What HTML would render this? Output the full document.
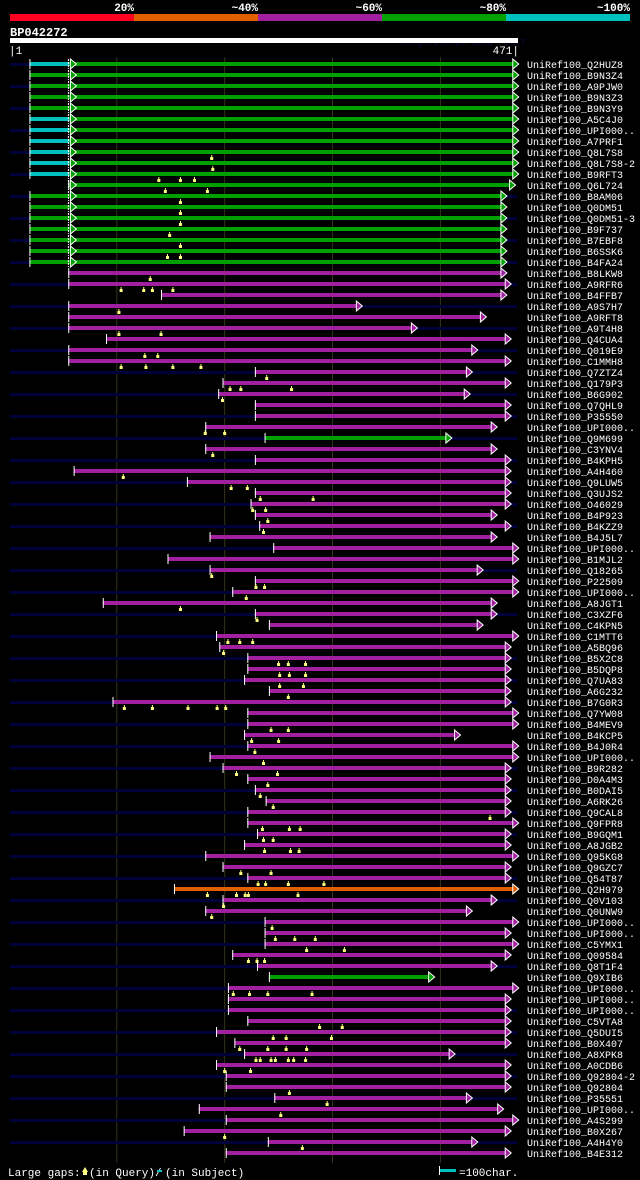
<!DOCTYPE html>
<html><head><meta charset="utf-8"><style>
body{margin:0;background:#000;width:640px;height:1180px;overflow:hidden;font-family:"Liberation Mono",monospace;}
svg{display:block}
</style></head><body>
<svg id="chart" width="640" height="1180" xmlns="http://www.w3.org/2000/svg">
<g>
<rect x="10" y="14" width="124" height="7" fill="#ff0020"/>
<rect x="134" y="14" width="124" height="7" fill="#e06000"/>
<rect x="258" y="14" width="124" height="7" fill="#a020a0"/>
<rect x="382" y="14" width="124" height="7" fill="#00a000"/>
<rect x="506" y="14" width="124" height="7" fill="#00c0c0"/>
<g font-size="11" font-weight="bold" fill="#fff" text-anchor="end">
<text x="134" y="11">20%</text><text x="258" y="11">~40%</text><text x="382" y="11">~60%</text><text x="506" y="11">~80%</text><text x="630" y="11">~100%</text>
</g></g>
<text x="10" y="36" font-size="12" font-weight="bold" fill="#fff">BP042272</text>
<text x="401" y="45" font-size="9" fill="#0a0a40">AlignView.pm Beta rel.7</text>
<rect x="10" y="38" width="508" height="5" fill="#fff"/>
<text x="9" y="54" font-size="11" fill="#fff">|1</text>
<text x="519" y="54" font-size="11" fill="#fff" text-anchor="end">471|</text>
<g id="grid"></g>
<g id="rows"></g>
<g font-size="11" fill="#fff">
<text x="8" y="1176">Large gaps:</text>
<path d="M82 1172 L85 1167 L88 1172 Z" fill="#ffff80"/><rect x="83" y="1172" width="4" height="3" fill="#ffff80"/>
<text x="89" y="1176">(in Query)/</text>
<rect x="157" y="1170" width="5" height="2" fill="#00c0c0"/>
<text x="165" y="1176">(in Subject)</text>
<rect x="439" y="1169" width="17" height="3" fill="#00c0c0"/><rect x="439" y="1166" width="1" height="9" fill="#fff"/>
<text x="459" y="1176">=100char.</text>
</g>
</svg>
<script>
const NS="http://www.w3.org/2000/svg";
const queryLen=471;
const gridTicks=[100,200,300,400];
const labels=["Q2HUZ8","B9N3Z4","A9PJW0","B9N3Z3","B9N3Y9","A5C4J0","UPI000..","A7PRF1","Q8L7S8","Q8L7S8-2","B9RFT3","Q6L724","B8AM06","Q0DM51","Q0DM51-3","B9F737","B7EBF8","B6SSK6","B4FA24","B8LKW8","A9RFR6","B4FFB7","A9S7H7","A9RFT8","A9T4H8","Q4CUA4","Q019E9","C1MMH8","Q7ZTZ4","Q179P3","B6G902","Q7QHL9","P35550","UPI000..","Q9M699","C3YNV4","B4KPH5","A4H460","Q9LUW5","Q3UJS2","O46029","B4P923","B4KZZ9","B4J5L7","UPI000..","B1MJL2","Q18265","P22509","UPI000..","A8JGT1","C3XZF6","C4KPN5","C1MTT6","A5BQ96","B5X2C8","B5DQP8","Q7UA83","A6G232","B7G0R3","Q7YW08","B4MEV9","B4KCP5","B4J0R4","UPI000..","B9R282","D0A4M3","B0DAI5","A6RK26","Q9CAL8","Q9FPR8","B9GQM1","A8JGB2","Q95KG8","Q9GZC7","Q54T87","Q2H979","Q0V103","Q0UNW9","UPI000..","UPI000..","C5YMX1","Q09584","Q8T1F4","Q9XIB6","UPI000..","UPI000..","UPI000..","C5VTA8","Q5DUI5","B0X407","A8XPK8","A0CDB6","Q92804-2","Q92804","P35551","UPI000..","A4S299","B0X267","A4H4Y0","B4E312"];
const starts=[19,19,19,19,19,19,19,19,19,19,19,55,19,19,19,19,19,19,19,55,55,141,55,55,55,90,55,55,228,198,194,228,228,182,237,182,228,60,165,228,224,228,232,186,245,147,186,228,207,87,228,241,192,195,221,221,218,241,96,221,221,218,221,186,198,221,228,238,221,221,230,218,182,198,221,153,198,182,237,237,237,207,230,241,203,203,203,221,192,209,218,192,201,201,246,176,201,162,240,201];
const ends=[468,468,468,468,468,468,468,468,468,468,468,465,457,457,457,457,457,457,457,457,461,457,323,438,374,461,430,461,425,461,423,461,461,448,406,448,461,461,461,461,461,448,461,448,468,468,435,468,468,448,448,435,468,461,461,461,461,461,461,468,468,414,468,468,461,461,461,461,461,468,461,461,468,461,461,468,448,425,468,461,468,461,448,390,468,461,461,461,461,461,409,461,461,461,425,454,468,461,430,461];
const identity=[3,3,3,3,3,3,3,3,3,3,3,3,3,3,3,3,3,3,3,2,2,2,2,2,2,2,2,2,2,2,2,2,2,2,3,2,2,2,2,2,2,2,2,2,2,2,2,2,2,2,2,2,2,2,2,2,2,2,2,2,2,2,2,2,2,2,2,2,2,2,2,2,2,2,2,1,2,2,2,2,2,2,2,3,2,2,2,2,2,2,2,2,2,2,2,2,2,2,2,2];
const leadEnd=[56,0,0,0,0,56,56,56,56,56,56,0,0,0,0,0,0,0,0];
const gaps={8:[188],9:[189],10:[139,159,172],11:[145,184],12:[159],13:[159],14:[159],15:[149],16:[159],17:[147,159],19:[131],20:[104,125,133,152],22:[102],24:[102,141],26:[126,138],27:[104,127,152,178],28:[239],29:[205,215,262],30:[198],33:[182,200],35:[189],37:[106],38:[206,221],39:[233,282],40:[226,238],41:[240],42:[236],46:[188],47:[229,237],48:[220],49:[159],50:[230],52:[203,214,226],53:[199],54:[250,259,275],55:[251,260,275],56:[251,273],57:[259],58:[107,133,166,193,201],60:[243,259],61:[225,250],62:[228],63:[236],64:[211,249],65:[240],66:[233],67:[245],68:[446],69:[235,260,270],70:[236,245],71:[237,261,269],73:[215,243],74:[231,238,259,292],75:[184,211,219,222,268],76:[199],77:[188],78:[244],79:[247,265,284],80:[276,311],81:[222,230,237],84:[208,223,240,281],87:[288,309],88:[245,257,299],89:[214,240,257,276],90:[229,233,243,247,259,264,275],91:[200,224],93:[260],94:[295],95:[252],97:[200],98:[272]};
const colors=["#ff0020","#e06000","#a020a0","#00a000","#00c0c0"];
const x0=10,x1=517;
function xs(r){return x0+(r-1)*(x1-x0)/(queryLen-1);}
const rowY=i=>64+i*11;
const grid=document.getElementById('grid');
gridTicks.forEach(t=>{
  const l=document.createElementNS(NS,'line');
  
  
  l.setAttribute('x1',xs(t));l.setAttribute('x2',xs(t));l.setAttribute('y1',57);l.setAttribute('y2',1163);
  l.setAttribute('stroke','#34341a');l.setAttribute('stroke-width','1');
  grid.appendChild(l);
});
const rowsG=document.getElementById('rows');
labels.forEach((lab,i)=>{
  const y=rowY(i);
  const g=document.createElementNS(NS,'g');
  
  
  let h='';
  if(i%2===0) h+=`<rect x="${x0}" y="${y-1}" width="${x1-x0}" height="3" fill="#00003a"/>`;
  const sx=xs(starts[i]),ex=xs(ends[i]),c=colors[identity[i]];
  h+=`<rect x="${sx}" y="${y-2}" width="${ex-sx}" height="4" fill="${c}"/>`;
  const le=leadEnd[i]||0;
  if(i<19){
    if(le) h+=`<rect x="${sx}" y="${y-2}" width="${xs(le)-sx}" height="4" fill="#00c0c0"/>`;
    const ax=xs(57);
    h+=`<line x1="${ax-2}" x2="${ax-2}" y1="${y-5}" y2="${y+5}" stroke="#fff" stroke-dasharray="2,1"/>`;
    h+=`<path d="M${ax} ${y-5} L${ax+6} ${y} L${ax} ${y+5} Z" fill="${c}" stroke="#fff" stroke-width="1"/>`;
  }
  h+=`<rect x="${sx}" y="${y-5}" width="1" height="10" fill="#fff"/>`;
  h+=`<path d="M${ex-1} ${y-5} L${ex+5} ${y} L${ex-1} ${y+5} Z" fill="${c}" stroke="#fff" stroke-width="1"/>`;
  (gaps[i]||[]).forEach(p=>{const gx=xs(p);
    h+=`<rect x="${gx-0.5}" y="${y+3}" width="1" height="3" fill="#ffff80"/><rect x="${gx-1.5}" y="${y+5}" width="3" height="3" fill="#ffff80"/>`;});
  h+=`<text x="527" y="${y+4}" font-size="10" fill="#fff">UniRef100_${lab}</text>`;
  g.innerHTML=h;
  rowsG.appendChild(g);
});
</script>
</body></html>
